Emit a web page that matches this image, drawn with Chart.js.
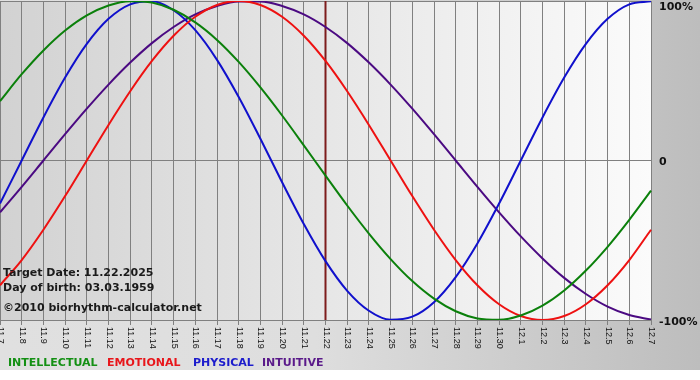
<!DOCTYPE html>
<html>
<head>
<meta charset="utf-8">
<script src="https://cdn.jsdelivr.net/npm/chart.js@4"></script>
<style>
html,body{margin:0;padding:0;background:#fff;}
canvas{display:block;}
</style>
</head>
<body>
<canvas id="c" width="700" height="380"></canvas>
<script>
const labels = ['11.7','11.8','11.9','11.10','11.11','11.12','11.13','11.14','11.15','11.16','11.17','11.18','11.19','11.20','11.21','11.22','11.23','11.24','11.25','11.26','11.27','11.28','11.29','11.30','12.1','12.2','12.3','12.4','12.5','12.6','12.7'];

const intellectual = [0.372,0.541,0.690,0.815,0.910,0.972,0.999,0.990,0.945,0.866,0.756,0.618,0.458,0.282,0.095,-0.095,-0.282,-0.458,-0.618,-0.756,-0.866,-0.945,-0.990,-0.999,-0.972,-0.910,-0.815,-0.690,-0.541,-0.372,-0.189];
const emotional = [-0.782,-0.624,-0.434,-0.223,0,0.223,0.434,0.624,0.782,0.901,0.975,1,0.975,0.901,0.782,0.624,0.434,0.223,0,-0.223,-0.434,-0.624,-0.782,-0.901,-0.975,-1,-0.975,-0.901,-0.782,-0.624,-0.434];
const physical = [-0.270,0,0.270,0.520,0.731,0.888,0.979,0.998,0.942,0.817,0.631,0.398,0.136,-0.136,-0.398,-0.631,-0.817,-0.942,-0.998,-0.979,-0.888,-0.731,-0.520,-0.270,0,0.270,0.520,0.731,0.888,0.979,0.998];
const intuitive = [-0.325,-0.165,0,0.165,0.325,0.476,0.614,0.736,0.837,0.916,0.969,0.997,0.997,0.969,0.916,0.837,0.736,0.614,0.476,0.325,0.165,0,-0.165,-0.325,-0.476,-0.614,-0.736,-0.837,-0.916,-0.969,-0.997];

const seriesNames = ['INTELLECTUAL','EMOTIONAL','PHYSICAL','INTUITIVE'];
const yTickValues = [1, 0, -1];
const yTickLabels = ['100%', '0', '-100%'];
const targetLabel = '11.22';
const infoLines = ['Target Date: 11.22.2025', 'Day of birth: 03.03.1959'];
const creditLine = '\u00A92010 biorhythm-calculator.net';

const colors = ['#0b800b', '#ee1111', '#1010cc', '#4b0a82'];
const legendColors = ['#149014', '#e8161b', '#1c1ccc', '#5a1a8a'];

const bgPlugin = {
  id: 'bg',
  beforeDraw(chart) {
    const ctx = chart.ctx, a = chart.chartArea;
    ctx.save();
    const g = ctx.createLinearGradient(0, 0, 700, 0);
    g.addColorStop(0, '#e0e0e0');
    g.addColorStop(0.45, '#dedede');
    g.addColorStop(1, '#bdbdbd');
    ctx.fillStyle = g;
    ctx.fillRect(0, 0, 700, 370);
    ctx.fillStyle = '#ffffff';
    ctx.fillRect(0, 370, 700, 10);
    const g2 = ctx.createLinearGradient(a.left, 0, a.right, 0);
    g2.addColorStop(0, '#d2d2d2');
    g2.addColorStop(1, '#fbfbfb');
    ctx.fillStyle = g2;
    ctx.fillRect(a.left, a.top, a.right - a.left, a.bottom - a.top);
    ctx.restore();
  },
  beforeDatasetsDraw(chart) {
    const ctx = chart.ctx, a = chart.chartArea;
    const xs = chart.scales.x;
    const x = xs.getPixelForValue(labels.indexOf(targetLabel));
    ctx.save();
    ctx.strokeStyle = '#7d1c1c';
    ctx.lineWidth = 2;
    ctx.beginPath();
    ctx.moveTo(x, a.top);
    ctx.lineTo(x, a.bottom);
    ctx.stroke();
    ctx.restore();
  },
  afterDraw(chart) {
    const ctx = chart.ctx, a = chart.chartArea;
    const xs = chart.scales.x, ys = chart.scales.y;
    ctx.save();
    // x tick labels, rotated clockwise
    ctx.fillStyle = '#111';
    ctx.font = '9px "Liberation Sans", Arial, sans-serif';
    ctx.textBaseline = 'middle';
    ctx.textAlign = 'left';
    labels.forEach((l, i) => {
      const x = xs.getPixelForValue(i);
      ctx.save();
      ctx.translate(x + 0.5, a.bottom + 7);
      ctx.rotate(Math.PI / 2);
      ctx.fillText(l, 0, 0);
      ctx.restore();
    });
    // y tick labels on right
    ctx.font = 'bold 11px "DejaVu Sans", sans-serif';
    ctx.fillStyle = '#111';
    yTickValues.forEach((v, i) => {
      const y = Math.max(ys.getPixelForValue(v) + 2, 7);
      ctx.fillText(yTickLabels[i], a.right + 8, y);
    });
    // info text
    ctx.textBaseline = 'alphabetic';
    ctx.fillStyle = '#1a1a1a';
    ctx.fillText(infoLines[0], 3, 276);
    ctx.fillText(infoLines[1], 3, 291);
    ctx.fillText(creditLine, 3, 311);
    // legend
    const legendX = [8, 107, 193, 262];
    chart.data.datasets.forEach((ds, i) => {
      ctx.fillStyle = legendColors[i];
      ctx.fillText(ds.label, legendX[i], 366);
    });
    ctx.restore();
  }
};

new Chart(document.getElementById('c'), {
  type: 'line',
  data: {
    labels: labels,
    datasets: [intellectual, emotional, physical, intuitive].map((d, i) => ({
      label: seriesNames[i],
      data: d,
      borderColor: colors[i],
      borderWidth: 2,
      pointRadius: 0,
      fill: false,
      cubicInterpolationMode: 'monotone'
    }))
  },
  options: {
    responsive: false,
    devicePixelRatio: 1,
    animation: false,
    layout: { padding: { top: 1, left: 0, right: 0, bottom: 0 } },
    plugins: { legend: { display: false }, tooltip: { enabled: false } },
    scales: {
      x: {
        type: 'category',
        offset: false,
        grid: { color: '#808080', lineWidth: 1, drawTicks: true, tickLength: 5, tickColor: '#808080' },
        border: { display: false },
        ticks: { display: false, autoSkip: false },
        afterFit(s) { s.height = 60; }
      },
      y: {
        position: 'right',
        min: -1,
        max: 1,
        ticks: { display: false, stepSize: 1 },
        grid: { color: '#808080', lineWidth: 1, drawTicks: false },
        border: { display: false },
        afterFit(s) { s.width = 49; }
      }
    }
  },
  plugins: [bgPlugin]
});
</script>
</body>
</html>
